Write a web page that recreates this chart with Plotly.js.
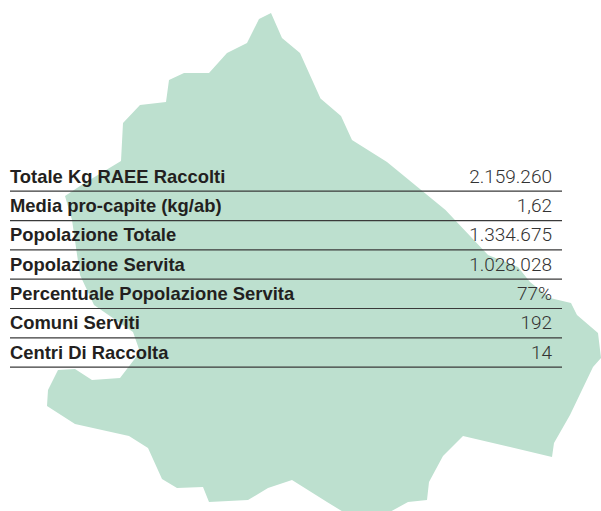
<!DOCTYPE html>
<html><head><meta charset="utf-8">
<script src="https://cdn.plot.ly/plotly-3.0.1.min.js"></script>
<style>html,body{margin:0;padding:0;background:#fff}#c{width:601px;height:511px}</style>
</head><body><div id="c"></div>
<script>
const labels = ["Totale Kg RAEE Raccolti","Media pro-capite (kg/ab)","Popolazione Totale","Popolazione Servita","Percentuale Popolazione Servita","Comuni Serviti","Centri Di Raccolta"];
const values = ["2.159.260","1,62","1.334.675","1.028.028","77%","192","14"];
const regionX = [259,271,282,300,320.5,341,352,387,445.5,488,518,530,550,571,577,598,601,593,570,554,552,513,463,443,429,427,408,388,345,327,300,292,268,248,209,203,177,162,148,129,75,47,48,58,75,92,120,140,133,94,80,72,65,83,121,123,140,166,169,184,209,227,247,259];
const regionY = [19,13,38,53,98.5,116,140,162,210,255,267,282,298,303,315,333,358,367,415,443,457,448,436,456,482,500,502,513,513,502,485,480,488,500,502,487,488,479,448,436,424,406,390,370,369,380,378,352,332,305,275,220,196,184,161,123,105,102,80,73,73,53,43,19];

const rowTop = 178, rowStep = 29.33, ruleOffset = 13.2;
const rowY = labels.map((_, i) => rowTop + i * rowStep);
const ruleX = [], ruleY = [];
rowY.forEach(y => { ruleX.push(10, 562, null); ruleY.push(y + ruleOffset, y + ruleOffset, null); });

const traces = [
  {type:'scatter',mode:'lines',x:regionX,y:regionY,fill:'toself',fillcolor:'#bde0cf',line:{width:0,color:'#bde0cf'},hoverinfo:'skip'},
  {type:'scatter',mode:'lines',x:ruleX,y:ruleY,line:{color:'#3a3a3a',width:1.2},hoverinfo:'skip'},
  {type:'scatter',mode:'text',x:labels.map(()=>10),y:rowY,text:labels,textposition:'middle right',
   textfont:{family:'Liberation Sans',size:18.4,color:'#231f20',weight:700},hoverinfo:'skip'},
  {type:'scatter',mode:'text',x:values.map(()=>552),y:rowY,text:values,textposition:'middle left',
   textfont:{family:'Roboto',size:19,color:'#333333',weight:300},hoverinfo:'skip'}
];
const layout = {
  width:601,height:511,margin:{l:0,r:0,t:0,b:0},showlegend:false,
  paper_bgcolor:'#fff',plot_bgcolor:'#fff',
  xaxis:{range:[0,601],visible:false,fixedrange:true},
  yaxis:{range:[511,0],visible:false,fixedrange:true}
};
Plotly.newPlot('c',traces,layout,{displayModeBar:false,staticPlot:true});
</script></body></html>
